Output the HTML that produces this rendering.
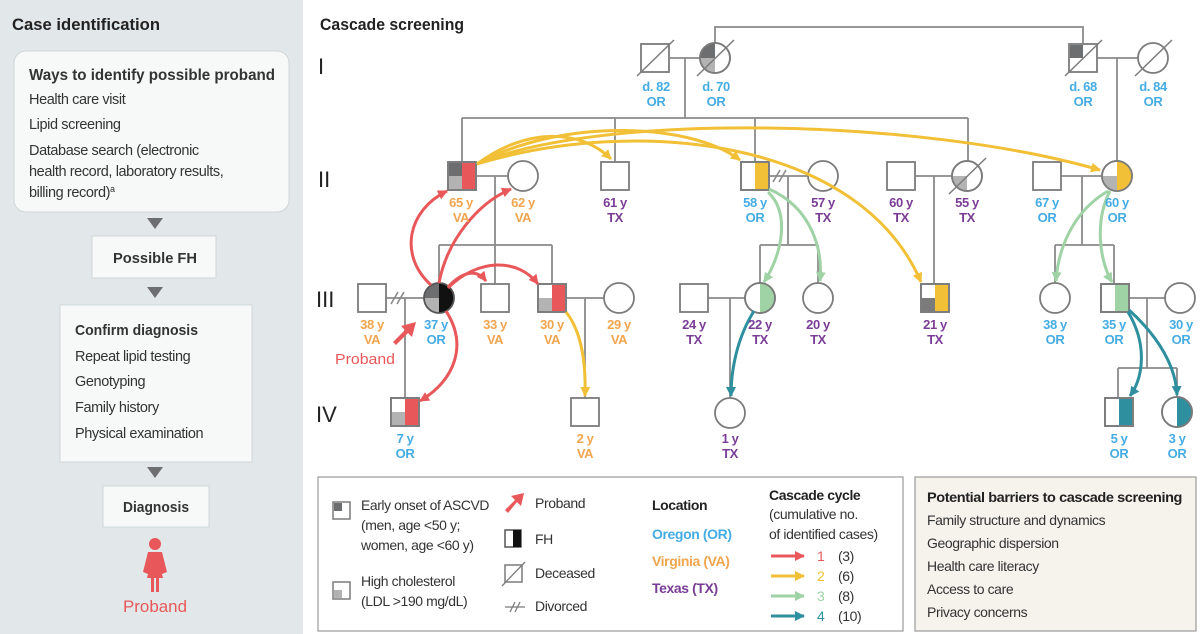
<!DOCTYPE html>
<html><head><meta charset="utf-8"><style>
html,body{margin:0;padding:0;background:#fff}
svg{display:block}
text{font-family:"Liberation Sans Narrow","Liberation Sans",sans-serif}
.b{font-weight:bold}
.or{fill:#45ace3}.va{fill:#f0a54e}.tx{fill:#7a3d96}
.lab{font-size:13px;font-weight:bold;text-anchor:middle;letter-spacing:-0.4px}
.t{font-size:14.5px;fill:#333;letter-spacing:-0.4px}
.lg{letter-spacing:-0.4px}
</style></head><body>
<svg width="1200" height="634" viewBox="0 0 1200 634" xmlns="http://www.w3.org/2000/svg">
<defs>
<marker id="mr" markerWidth="12" markerHeight="12" refX="9" refY="5" orient="auto" markerUnits="userSpaceOnUse"><path d="M0,0 L10,5 L0,10 z" fill="#e8585a"/></marker>
<marker id="my" markerWidth="12" markerHeight="12" refX="9" refY="5" orient="auto" markerUnits="userSpaceOnUse"><path d="M0,0 L10,5 L0,10 z" fill="#f2c037"/></marker>
<marker id="mg" markerWidth="12" markerHeight="12" refX="9" refY="5" orient="auto" markerUnits="userSpaceOnUse"><path d="M0,0 L10,5 L0,10 z" fill="#9fd2a5"/></marker>
<marker id="mt" markerWidth="12" markerHeight="12" refX="9" refY="5" orient="auto" markerUnits="userSpaceOnUse"><path d="M0,0 L10,5 L0,10 z" fill="#2e8f9e"/></marker>
</defs>

<rect x="0" y="0" width="303" height="634" fill="#e2e8e9"/>
<text x="12" y="30" class="b" font-size="17" fill="#222" textLength="148" lengthAdjust="spacingAndGlyphs">Case identification</text>
<rect x="14" y="51" width="275" height="161" rx="12" fill="#f7f9f9" stroke="#cfd6d8"/>
<text x="29" y="80" class="b" font-size="15.5" fill="#333" textLength="246" lengthAdjust="spacingAndGlyphs">Ways to identify possible proband</text>
<text x="29" y="104" class="t">Health care visit</text>
<text x="29" y="129" class="t">Lipid screening</text>
<text x="29" y="155" class="t">Database search (electronic</text>
<text x="29" y="176" class="t">health record, laboratory results,</text>
<text x="29" y="197" class="t">billing record)<tspan font-size="9" dy="-5">a</tspan></text>
<path d="M147,218 L163,218 L155,229 z" fill="#6d6e70"/>
<rect x="92" y="236" width="124" height="42" fill="#f7f9f9" stroke="#cfd6d8"/>
<text x="155" y="263" text-anchor="middle" class="b" font-size="15" fill="#333" textLength="84" lengthAdjust="spacingAndGlyphs">Possible FH</text>
<path d="M147,287 L163,287 L155,298 z" fill="#6d6e70"/>
<rect x="60" y="305" width="192" height="157" fill="#f7f9f9" stroke="#cfd6d8"/>
<text x="75" y="335" class="b" font-size="15" fill="#333" textLength="123" lengthAdjust="spacingAndGlyphs">Confirm diagnosis</text>
<text x="75" y="361" class="t">Repeat lipid testing</text>
<text x="75" y="386" class="t">Genotyping</text>
<text x="75" y="412" class="t">Family history</text>
<text x="75" y="438" class="t">Physical examination</text>
<path d="M147,467 L163,467 L155,478 z" fill="#6d6e70"/>
<rect x="103" y="486" width="106" height="41" fill="#f7f9f9" stroke="#cfd6d8"/>
<text x="156" y="512" text-anchor="middle" class="b" font-size="15" fill="#333" textLength="66" lengthAdjust="spacingAndGlyphs">Diagnosis</text>
<circle cx="155" cy="544" r="6" fill="#e8585a"/>
<path d="M148,552 L162,552 L167,572 L162,574 L159,562 L163,578 L159,578 L159,592 L156,592 L156,578 L154,578 L154,592 L151,592 L151,578 L147,578 L151,562 L148,574 L143,572 z" fill="#e8585a"/>
<text x="155" y="612" text-anchor="middle" font-size="17" fill="#e8585a" textLength="64" lengthAdjust="spacingAndGlyphs">Proband</text>

<text x="320" y="30" class="b" font-size="17" fill="#222" textLength="144" lengthAdjust="spacingAndGlyphs">Cascade screening</text>
<g font-size="22" fill="#222"><text x="318" y="74">I</text><text x="318" y="187">II</text><text x="316" y="307">III</text><text x="316" y="422">IV</text></g>

<g stroke="#8a8a8a" stroke-width="1.8" fill="none">
<path d="M670,58 H700 M685,58 V118 M715,43 V27 H1083 V44 M1097,58 H1138 M1117,58 V161"/>
<path d="M462,118 H968 M462,118 V162 M615,118 V162 M755,118 V162 M968,118 V161"/>
<path d="M476,176 H508 M495,176 V245 M439,245 H552 M439,245 V283 M495,245 V284 M552,245 V284"/>
<path d="M769,176 H808 M788,176 V245 M760,245 H818 M760,245 V283 M818,245 V283"/>
<path d="M915,176 H952 M934,176 V284"/>
<path d="M1061,176 H1102 M1082,176 V245 M1055,245 H1114 M1055,245 V283 M1114,245 V284"/>
<path d="M386,298 H424 M405,298 V398 M566,298 H604 M585,298 V398 M708,298 H745 M730,298 V398"/>
<path d="M1129,298 H1165 M1147,298 V368 M1118,368 H1177 M1118,368 V398 M1177,368 V397"/>
</g>
<g stroke="#8a8a8a" stroke-width="1.6"><path d="M391,304 L398,292 M397,304 L404,292"/><path d="M773,182 L780,170 M779,182 L786,170"/></g>

<rect x="641" y="44" width="28" height="28" fill="#fff" stroke="#7b7b7b" stroke-width="1.8"/>
<line x1="637" y1="76" x2="674" y2="40" stroke="#7b7b7b" stroke-width="1.5"/>
<circle cx="715" cy="58" r="15" fill="#fff" stroke="#7b7b7b" stroke-width="1.8"/>
<path d="M715,58 L715,43 A15,15 0 0,0 700,58 z" fill="#6d6e70"/>
<path d="M715,58 L700,58 A15,15 0 0,0 715,73 z" fill="#b3b3b3"/>
<circle cx="715" cy="58" r="15" fill="none" stroke="#7b7b7b" stroke-width="1.8"/>
<line x1="697" y1="76" x2="734" y2="40" stroke="#7b7b7b" stroke-width="1.5"/>
<rect x="1069" y="44" width="28" height="28" fill="#fff" stroke="#7b7b7b" stroke-width="1.8"/>
<rect x="1070" y="45" width="13" height="13" fill="#6d6e70"/>
<line x1="1065" y1="76" x2="1102" y2="40" stroke="#7b7b7b" stroke-width="1.5"/>
<circle cx="1153" cy="58" r="15" fill="#fff" stroke="#7b7b7b" stroke-width="1.8"/>
<line x1="1135" y1="76" x2="1172" y2="40" stroke="#7b7b7b" stroke-width="1.5"/>

<g stroke="#7b7b7b" stroke-width="1.8">
<rect x="448" y="162" width="28" height="28" fill="#fff"/>
<circle cx="523" cy="176" r="15" fill="#fff"/>
<rect x="601" y="162" width="28" height="28" fill="#fff"/>
<rect x="741" y="162" width="28" height="28" fill="#fff"/>
<circle cx="823" cy="176" r="15" fill="#fff"/>
<rect x="887" y="162" width="28" height="28" fill="#fff"/>
<circle cx="967" cy="176" r="15" fill="#fff"/>
<rect x="1033" y="162" width="28" height="28" fill="#fff"/>
<circle cx="1117" cy="176" r="15" fill="#fff"/>
</g>
<rect x="449" y="163" width="13" height="13" fill="#6d6e70"/>
<rect x="449" y="176" width="13" height="13" fill="#b3b3b3"/>
<rect x="462" y="163" width="13" height="26" fill="#e8585a"/>
<rect x="755" y="163" width="13" height="26" fill="#f2c037"/>
<path d="M967,176 L952,176 A15,15 0 0,0 967,191 z" fill="#b3b3b3"/>
<path d="M1117,161 A15,15 0 0,1 1117,191 z" fill="#f2c037"/>
<path d="M1117,176 L1102,176 A15,15 0 0,0 1117,191 z" fill="#b3b3b3"/>
<g fill="none" stroke="#7b7b7b" stroke-width="1.8"><rect x="448" y="162" width="28" height="28"/><rect x="741" y="162" width="28" height="28"/><circle cx="967" cy="176" r="15"/><circle cx="1117" cy="176" r="15"/></g>
<line x1="949" y1="194" x2="986" y2="158" stroke="#7b7b7b" stroke-width="1.5"/>

<g stroke="#7b7b7b" stroke-width="1.8">
<rect x="358" y="284" width="28" height="28" fill="#fff"/>
<rect x="481" y="284" width="28" height="28" fill="#fff"/>
<rect x="538" y="284" width="28" height="28" fill="#fff"/>
<circle cx="619" cy="298" r="15" fill="#fff"/>
<rect x="680" y="284" width="28" height="28" fill="#fff"/>
<circle cx="760" cy="298" r="15" fill="#fff"/>
<circle cx="818" cy="298" r="15" fill="#fff"/>
<rect x="921" y="284" width="28" height="28" fill="#fff"/>
<circle cx="1055" cy="298" r="15" fill="#fff"/>
<rect x="1101" y="284" width="28" height="28" fill="#fff"/>
<circle cx="1180" cy="298" r="15" fill="#fff"/>
</g>
<path d="M439,298 L439,283 A15,15 0 0,0 424,298 z" fill="#6d6e70"/>
<path d="M439,298 L424,298 A15,15 0 0,0 439,313 z" fill="#b3b3b3"/>
<path d="M439,283 A15,15 0 0,1 439,313 z" fill="#111"/>
<circle cx="439" cy="298" r="15" fill="none" stroke="#555" stroke-width="1.8"/>
<rect x="539" y="298" width="13" height="13" fill="#b3b3b3"/>
<rect x="552" y="285" width="13" height="26" fill="#e8585a"/>
<path d="M760,283 A15,15 0 0,1 760,313 z" fill="#9fd2a5"/>
<rect x="922" y="298" width="13" height="13" fill="#7b7b7b"/>
<rect x="935" y="285" width="13" height="26" fill="#f2c037"/>
<rect x="1115" y="285" width="13" height="26" fill="#9fd2a5"/>
<g fill="none" stroke="#7b7b7b" stroke-width="1.8"><rect x="538" y="284" width="28" height="28"/><circle cx="760" cy="298" r="15"/><rect x="921" y="284" width="28" height="28"/><rect x="1101" y="284" width="28" height="28"/></g>

<g stroke="#7b7b7b" stroke-width="1.8">
<rect x="391" y="398" width="28" height="28" fill="#fff"/>
<rect x="571" y="398" width="28" height="28" fill="#fff"/>
<circle cx="730" cy="413" r="15" fill="#fff"/>
<rect x="1105" y="398" width="28" height="28" fill="#fff"/>
<circle cx="1177" cy="412" r="15" fill="#fff"/>
</g>
<rect x="392" y="412" width="13" height="13" fill="#b3b3b3"/>
<rect x="405" y="399" width="13" height="26" fill="#e8585a"/>
<rect x="1119" y="399" width="13" height="26" fill="#2e8f9e"/>
<path d="M1177,397 A15,15 0 0,1 1177,427 z" fill="#2e8f9e"/>
<g fill="none" stroke="#7b7b7b" stroke-width="1.8"><rect x="391" y="398" width="28" height="28"/><rect x="1105" y="398" width="28" height="28"/><circle cx="1177" cy="412" r="15"/></g>

<g fill="none" stroke-width="3">
<g stroke="#f2c037" marker-end="url(#my)">
<path d="M477,164 C525,128 580,128 611,159"/>
<path d="M477,164 C560,118 690,122 740,160"/>
<path d="M477,164 C600,112 920,118 1100,170"/>
<path d="M477,164 C640,115 860,140 921,282"/>
<path d="M566,312 C582,332 586,365 585,396"/>
</g>
<g stroke="#9fd2a5" marker-end="url(#mg)">
<path d="M768,192 C792,215 780,258 764,282"/>
<path d="M769,189 C812,208 823,250 820,281"/>
<path d="M1108,191 C1072,212 1058,250 1056,281"/>
<path d="M1110,191 C1094,222 1100,262 1112,282"/>
</g>
<g stroke="#2e8f9e" marker-end="url(#mt)">
<path d="M754,311 C737,338 731,370 731,396"/>
<path d="M1128,312 C1148,345 1143,378 1130,396"/>
<path d="M1129,310 C1160,338 1176,368 1177,395"/>
</g>
<g stroke="#e8585a" marker-end="url(#mr)">
<path d="M431,285 C398,255 408,210 447,191"/>
<path d="M439,283 C447,240 478,203 511,189"/>
<path d="M448,287 C462,272 476,268 486,281"/>
<path d="M448,288 C478,258 518,258 538,284"/>
<path d="M446,311 C468,345 455,380 420,401"/>
</g>
</g>
<path d="M393,342 L405,330 L401,326 L416,322 L412,337 L408,333 L396,345 z" fill="#e8585a"/>
<text x="365" y="364" text-anchor="middle" font-size="15" fill="#e8585a" textLength="60" lengthAdjust="spacingAndGlyphs">Proband</text>

<g class="lab">
<text x="656" y="91" class="or">d. 82</text><text x="656" y="106" class="or">OR</text>
<text x="716" y="91" class="or">d. 70</text><text x="716" y="106" class="or">OR</text>
<text x="1083" y="91" class="or">d. 68</text><text x="1083" y="106" class="or">OR</text>
<text x="1153" y="91" class="or">d. 84</text><text x="1153" y="106" class="or">OR</text>

<text x="461" y="207" class="va">65 y</text><text x="461" y="222" class="va">VA</text>
<text x="523" y="207" class="va">62 y</text><text x="523" y="222" class="va">VA</text>
<text x="615" y="207" class="tx">61 y</text><text x="615" y="222" class="tx">TX</text>
<text x="755" y="207" class="or">58 y</text><text x="755" y="222" class="or">OR</text>
<text x="823" y="207" class="tx">57 y</text><text x="823" y="222" class="tx">TX</text>
<text x="901" y="207" class="tx">60 y</text><text x="901" y="222" class="tx">TX</text>
<text x="967" y="207" class="tx">55 y</text><text x="967" y="222" class="tx">TX</text>
<text x="1047" y="207" class="or">67 y</text><text x="1047" y="222" class="or">OR</text>
<text x="1117" y="207" class="or">60 y</text><text x="1117" y="222" class="or">OR</text>

<text x="372" y="329" class="va">38 y</text><text x="372" y="344" class="va">VA</text>
<text x="436" y="329" class="or">37 y</text><text x="436" y="344" class="or">OR</text>
<text x="495" y="329" class="va">33 y</text><text x="495" y="344" class="va">VA</text>
<text x="552" y="329" class="va">30 y</text><text x="552" y="344" class="va">VA</text>
<text x="619" y="329" class="va">29 y</text><text x="619" y="344" class="va">VA</text>
<text x="694" y="329" class="tx">24 y</text><text x="694" y="344" class="tx">TX</text>
<text x="760" y="329" class="tx">22 y</text><text x="760" y="344" class="tx">TX</text>
<text x="818" y="329" class="tx">20 y</text><text x="818" y="344" class="tx">TX</text>
<text x="935" y="329" class="tx">21 y</text><text x="935" y="344" class="tx">TX</text>
<text x="1055" y="329" class="or">38 y</text><text x="1055" y="344" class="or">OR</text>
<text x="1114" y="329" class="or">35 y</text><text x="1114" y="344" class="or">OR</text>
<text x="1181" y="329" class="or">30 y</text><text x="1181" y="344" class="or">OR</text>

<text x="405" y="443" class="or">7 y</text><text x="405" y="458" class="or">OR</text>
<text x="585" y="443" class="va">2 y</text><text x="585" y="458" class="va">VA</text>
<text x="730" y="443" class="tx">1 y</text><text x="730" y="458" class="tx">TX</text>
<text x="1119" y="443" class="or">5 y</text><text x="1119" y="458" class="or">OR</text>
<text x="1177" y="443" class="or">3 y</text><text x="1177" y="458" class="or">OR</text>
</g>

<rect x="318" y="477" width="585" height="154" fill="#fff" stroke="#9a9a9a" stroke-width="1.2"/>
<g font-size="14" fill="#333" class="lg">
<rect x="333" y="502" width="17" height="17" fill="#fff" stroke="#7b7b7b" stroke-width="1.5"/>
<rect x="334" y="503" width="8" height="8" fill="#6d6e70"/>
<text x="361" y="510" textLength="128" lengthAdjust="spacingAndGlyphs">Early onset of ASCVD</text>
<text x="361" y="530">(men, age &lt;50 y;</text>
<text x="361" y="550">women, age &lt;60 y)</text>
<rect x="333" y="582" width="17" height="17" fill="#fff" stroke="#7b7b7b" stroke-width="1.5"/>
<rect x="334" y="590" width="8" height="8" fill="#b3b3b3"/>
<text x="361" y="586">High cholesterol</text>
<text x="361" y="606">(LDL &gt;190 mg/dL)</text>

<path d="M505,510 L515,500 L511,496 L524,493 L521,506 L517,502 L508,513 z" fill="#e8585a"/>
<text x="535" y="508">Proband</text>
<rect x="505" y="530" width="16" height="17" fill="#fff" stroke="#555" stroke-width="1.5"/>
<rect x="513" y="530" width="8" height="17" fill="#111"/>
<text x="535" y="544">FH</text>
<rect x="505" y="565" width="17" height="17" fill="#fff" stroke="#7b7b7b" stroke-width="1.5"/>
<line x1="502" y1="586" x2="525" y2="562" stroke="#7b7b7b" stroke-width="1.3"/>
<text x="535" y="578">Deceased</text>
<path d="M505,607 H525 M510,612 L515,602 M515,612 L520,602" stroke="#7b7b7b" stroke-width="1.3" fill="none"/>
<text x="535" y="611">Divorced</text>

<text x="652" y="510" class="b" fill="#222">Location</text>
<text x="652" y="539" class="b or">Oregon (OR)</text>
<text x="652" y="566" class="b va">Virginia (VA)</text>
<text x="652" y="593" class="b tx">Texas (TX)</text>

<text x="769" y="500" class="b" fill="#222">Cascade cycle</text>
<text x="769" y="519">(cumulative no.</text>
<text x="769" y="539">of identified cases)</text>
<g stroke-width="3" fill="none">
<path d="M771,556 H804" stroke="#e8585a" marker-end="url(#mr)"/>
<path d="M771,576 H804" stroke="#f2c037" marker-end="url(#my)"/>
<path d="M771,596 H804" stroke="#9fd2a5" marker-end="url(#mg)"/>
<path d="M771,616 H804" stroke="#2e8f9e" marker-end="url(#mt)"/>
</g>
<text x="817" y="561" fill="#e8585a">1</text><text x="838" y="561">(3)</text>
<text x="817" y="581" fill="#f2c037">2</text><text x="838" y="581">(6)</text>
<text x="817" y="601" fill="#9fd2a5">3</text><text x="838" y="601">(8)</text>
<text x="817" y="621" fill="#2e8f9e">4</text><text x="838" y="621">(10)</text>
</g>

<rect x="915" y="477" width="281" height="154" fill="#f6f3ec" stroke="#9a9a9a" stroke-width="1.2"/>
<g font-size="14" fill="#333" class="lg">
<text x="927" y="502" class="b" fill="#222" textLength="255" lengthAdjust="spacingAndGlyphs">Potential barriers to cascade screening</text>
<text x="927" y="525">Family structure and dynamics</text>
<text x="927" y="548">Geographic dispersion</text>
<text x="927" y="571">Health care literacy</text>
<text x="927" y="594">Access to care</text>
<text x="927" y="617">Privacy concerns</text>
</g>
</svg>
</body></html>
